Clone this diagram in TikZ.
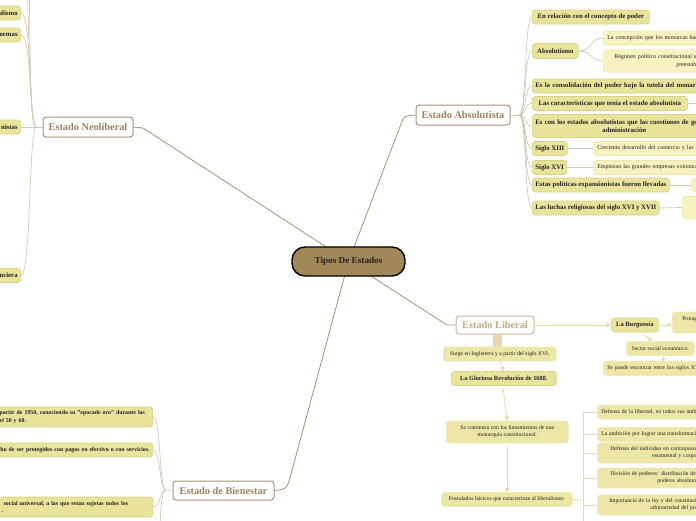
\documentclass[tikz,border=0pt]{standalone}
\usepackage{fontspec}
\setmainfont{Liberation Serif}
\usetikzlibrary{arrows.meta,calc}
\pgfdeclarelayer{bg}
\pgfsetlayers{bg,main}
\definecolor{yfill}{HTML}{E9E39C}
\definecolor{yborder}{HTML}{D9D286}
\definecolor{lfill}{HTML}{F8F2C0}
\definecolor{lborder}{HTML}{F0E8AA}
\definecolor{libfill}{HTML}{EDE6A6}
\definecolor{libborder}{HTML}{F2EAB6}
\definecolor{txt}{HTML}{222222}
\definecolor{topicb}{HTML}{A89272}
\definecolor{topict}{HTML}{9C8260}
\definecolor{libb}{HTML}{CDB894}
\definecolor{libt}{HTML}{C4A87E}
\definecolor{centralfill}{HTML}{A08858}
\definecolor{mainc}{HTML}{A89070}
\definecolor{subc}{HTML}{D3C8B4}
\definecolor{libc}{HTML}{E8D8AC}
\tikzset{
  ybox/.style={draw=yborder, fill=yfill, rounded corners=3pt, line width=0.7pt, inner xsep=3pt, inner ysep=1pt, minimum height=14pt, text=txt, font=\bfseries\fontsize{6.8}{8}\selectfont},
  bbox/.style={ybox, font=\bfseries\fontsize{5.9}{7.2}\selectfont},
  lbox/.style={draw=lborder, fill=lfill, rounded corners=3pt, line width=0.6pt, inner xsep=4pt, inner ysep=1pt, minimum height=14pt, text=txt, font=\fontsize{6}{7.4}\selectfont},
  libbox/.style={draw=libborder, fill=libfill, rounded corners=3pt, line width=0.6pt, inner xsep=4pt, inner ysep=1pt, minimum height=14pt, text=txt, font=\fontsize{5.7}{7}\selectfont},
  topic/.style={draw=topicb, fill=white, rounded corners=3pt, line width=1pt, text=topict, font=\bfseries\fontsize{10.3}{12}\selectfont, minimum height=20pt, inner xsep=4pt, inner ysep=1pt},
  topicL/.style={topic, draw=libb, text=libt, minimum height=18pt},
  central/.style={draw=black, fill=centralfill, rounded corners=13pt, line width=1.4pt, text=txt, font=\bfseries\fontsize{9.2}{11}\selectfont, minimum width=113pt, minimum height=29pt},
  mainline/.style={draw=mainc, line width=0.8pt},
  subline/.style={draw=subc, line width=0.7pt},
  libline/.style={draw=libc, line width=0.9pt},
  libarrow/.style={libline, -{Stealth[length=5pt,width=5pt]}}
}
\begin{document}
\begin{tikzpicture}[x=1pt,y=-1pt]
\useasboundingbox (0,0) rectangle (696,520);
\clip (0,0) rectangle (696,520);

% central and topics
\node[central] (tipos) at (348.5,261.5) {Tipos De Estados};
\node[topic, minimum width=90pt] (neo) at (88,127) {Estado Neoliberal};
\node[topic, minimum width=94pt] (abs) at (463,115) {Estado Absolutista};
\node[topicL, minimum width=78pt] (lib) at (495,325) {Estado Liberal};
\node[topic, minimum width=101pt, minimum height=19pt] (bien) at (223.5,490.5) {Estado de Bienestar};

% Neoliberal children (cut off at left)
\node[ybox, anchor=east, text width=52pt, align=right] (n1) at (21,13) {alismo};
\node[ybox, anchor=east, text width=52pt, align=right] (n2) at (21,35) {ormas};
\node[ybox, anchor=east, text width=52pt, align=right] (n3) at (21,127) {nistas};
\node[ybox, anchor=east, text width=52pt, align=right] (n4) at (21,275.5) {nciera};

% Bienestar children
\node[bbox, anchor=east, text width=150pt, align=left, minimum height=20pt] (b1) at (153,417) {partir de 1950, conociendo su "epocade oro" durante las\\el 50 y 60.};
\node[bbox, anchor=east, text width=180pt, align=right] (b2) at (153,450) {cho de ser protegidos con pagos en efectivo o con servicios.};
\node[bbox, anchor=east, text width=148pt, align=left, minimum height=20pt] (b3) at (153,507) {\hspace*{2pt}social universal, a las que estan sujetas todos los\\.};

% Absolutista children
\node[ybox, anchor=west, minimum width=117pt] (a1) at (532,17) {En relación con el concepto de poder};
\node[ybox, anchor=west, minimum width=46pt, minimum height=15pt] (a2) at (532,51) {Absolutismo};
\node[lbox, anchor=west, text width=200pt, align=left] (a2a) at (603,38) {La concepción que los monarcas hacían del poder};
\node[lbox, anchor=west, text width=200pt, align=left, minimum height=22pt] (a2b) at (603,61) {\hspace*{7pt}Régimen político constitucional sometido a\\\hspace*{69pt}preestablecidas};
\node[ybox, anchor=west, text width=200pt, align=left] (a3) at (532,86) {Es la consolidación del poder bajo la tutela del monarca};
\node[ybox, anchor=west, minimum width=155pt] (a4) at (532,103.5) {Las características que tenía el estado absolutista};
\node[ybox, anchor=west, text width=230pt, align=left, minimum height=23pt] (a5) at (532,126) {Es con los estados absolutistas que las cuestiones de gobierno y\\\hspace*{67pt}administración};
\node[ybox, anchor=west, minimum width=35pt] (a6) at (532,148.5) {Siglo XIII};
\node[lbox, anchor=west, text width=200pt, align=left] (a6a) at (593,148.5) {Creciente desarrollo del comercio y las industrias};
\node[ybox, anchor=west, minimum width=34pt] (a7) at (532,167.5) {Siglo XVI};
\node[lbox, anchor=west, text width=200pt, align=left] (a7a) at (593,167.5) {Empiezan las grandes empresas colonizadoras};
\node[ybox, anchor=west, minimum width=133pt] (a8) at (532,185) {Estas políticas expansionistas fueron llevadas};
\node[lbox, anchor=west, minimum width=40pt] (a8a) at (691,185) {};
\node[ybox, anchor=west, minimum width=123pt] (a9) at (532,208) {Las luchas religiosas del siglo XVI y XVII};
\node[lbox, anchor=west, minimum width=40pt, minimum height=22pt] (a9a) at (682,207.5) {};

% Liberal children
\node[ybox, anchor=west, minimum width=47pt, font=\bfseries\fontsize{6.5}{7.6}\selectfont] (bur) at (611,325) {La Burguesía};
\node[libbox, anchor=west, text width=100pt, align=left, minimum height=21pt] (prot) at (672,322.5) {\hspace*{6pt}Protagonista de\\\hspace*{60pt}la revolución};
\node[libbox, anchor=west, minimum width=68pt] (sect) at (626,348.5) {Sector social económico.};
\node[libbox, anchor=west, text width=200pt, align=left] (sepu) at (603,368.5) {Se puede encontrar entre los siglos XV y XVI};
\node[libbox, anchor=west, minimum width=113pt] (surge) at (443,354) {Surge en Inglaterra y a partir del siglo XVI.};
\node[ybox, anchor=west, minimum width=105pt, font=\bfseries\fontsize{6.3}{7.6}\selectfont] (glor) at (451,378.5) {La Gloriosa Revolución de 1688.};
\node[libbox, anchor=west, minimum width=122pt, minimum height=22pt, align=center] (comi) at (446,432) {Se comienza con los lineamientos de una\\monarquía constitucional.};
\node[libbox, anchor=west, minimum width=131pt] (post) at (441,499.5) {Postulados básicos que caracterizan al liberalismo:};
\node[libbox, anchor=west, text width=200pt, align=left] (p1) at (597,412) {Defensa de la libertad, en todos sus ámbitos};
\node[libbox, anchor=west, text width=200pt, align=left] (p2) at (597,434.5) {La ambición por lograr una transformación social};
\node[libbox, anchor=west, text width=200pt, align=left, minimum height=20pt] (p3) at (597,453) {\hspace*{9pt}Defensa del individuo en contraposición a la sociedad\\\hspace*{51pt}estamental y corporativa};
\node[libbox, anchor=west, text width=200pt, align=left, minimum height=20pt] (p4) at (597,478) {\hspace*{9pt}División de poderes: distribución de los\\\hspace*{56pt}poderes absolutos};
\node[libbox, anchor=west, text width=200pt, align=left, minimum height=20pt] (p5) at (597,505) {\hspace*{8pt}Importancia de la ley y del constitucionalismo frente a la\\\hspace*{49pt}arbitrariedad del poder};

\coordinate (nj) at (36,127);
\coordinate (bj) at (166,490);
\coordinate (aj) at (519,115);
\coordinate (br) at (583,500);
\coordinate (ntop1) at (26,-120);
\coordinate (ntop2) at (22,-160);
\coordinate (bbot) at (158,560);
\coordinate (a4out) at (700,103.5);

\begin{pgfonlayer}{bg}
% main connectors
\draw[mainline] (tipos.center) -- (143,128) -- (neo.east);
\draw[mainline] (tipos.center) -- (401,124) .. controls (404,116) .. (abs.west);
\draw[mainline] (tipos.center) -- (447,325) -- (lib.west);
\draw[mainline] (tipos.center) -- (291,474) .. controls (287,489) .. (bien.east);

% neoliberal branches
\draw[subline] (neo.west) -- (nj);
\draw[subline] (nj) .. controls (29,127) and (32,13) .. (n1.east);
\draw[subline] (nj) .. controls (29,127) and (32,35) .. (n2.east);
\draw[subline] (nj) .. controls (29,127) and (31,275.5) .. (n4.east);
\draw[subline] (nj) -- (n3.east);
\draw[subline] (nj) .. controls (27,127) and (32,-30) .. (ntop1);
\draw[subline] (nj) .. controls (28,127) and (29,-30) .. (ntop2);

% bienestar branches
\draw[subline] (bien.west) -- (bj);
\draw[subline] (bj) .. controls (159,490) and (161,417) .. (b1.east);
\draw[subline] (bj) .. controls (159,490) and (161,450) .. (b2.east);
\draw[subline] (bj) .. controls (159,490) and (161,507) .. (b3.east);
\draw[subline] (bj) .. controls (160,490) and (161,520) .. (bbot);

% absolutista branches
\draw[subline] (abs.east) -- (aj);
\foreach \t in {a1,a2,a3,a4,a5,a6,a7,a8,a9}
  \draw[subline] (aj) .. controls (527,115) and (524,0|-\t.west) .. (\t.west);
\draw[subline] (a2.east) .. controls (592,51) and (590,38) .. (a2a.west);
\draw[subline] (a2.east) .. controls (592,51) and (590,61) .. (a2b.west);
\draw[subline] (a4.east) -- (a4out);
\draw[subline] (a6.east) -- (a6a.west);
\draw[subline] (a7.east) -- (a7a.west);
\draw[subline] (a8.east) -- (a8a.west);
\draw[subline] (a9.east) -- (a9a.west);

% liberal branches
\draw[libarrow] (lib.east) -- (bur.west);
\draw[libarrow] (bur.east) -- (prot.west |- bur.east);
\draw[libarrow] ($(bur.south)+(8,1)$) -- ($(sect.north)+(-8,0)$);
\draw[libarrow] ($(sect.south)+(3,0)$) -- ($(sect.south)+(3,7)$);
\draw[libc, line width=9pt] (surge.north) ++(-2,0) -- ($(surge.north |- lib.south)+(-2,0)$);
\draw[libarrow] (surge.south) -- (glor.north);
\draw[libarrow, shorten <=3pt] ($(glor.south)+(-1,0)$) -- (comi.north);
\draw[libarrow, shorten <=3pt] (comi.south) -- (post.north -| comi.south);
\draw[libline] (post.east) -- (br);
\draw[libline] (br |- p1.west) -- ($(br)+(0,30)$);
\foreach \t in {p1,p2,p3,p4,p5}
  \draw[libline, line width=0.6pt] (br |- \t.west) -- (\t.west);
\end{pgfonlayer}
\end{tikzpicture}
\end{document}
